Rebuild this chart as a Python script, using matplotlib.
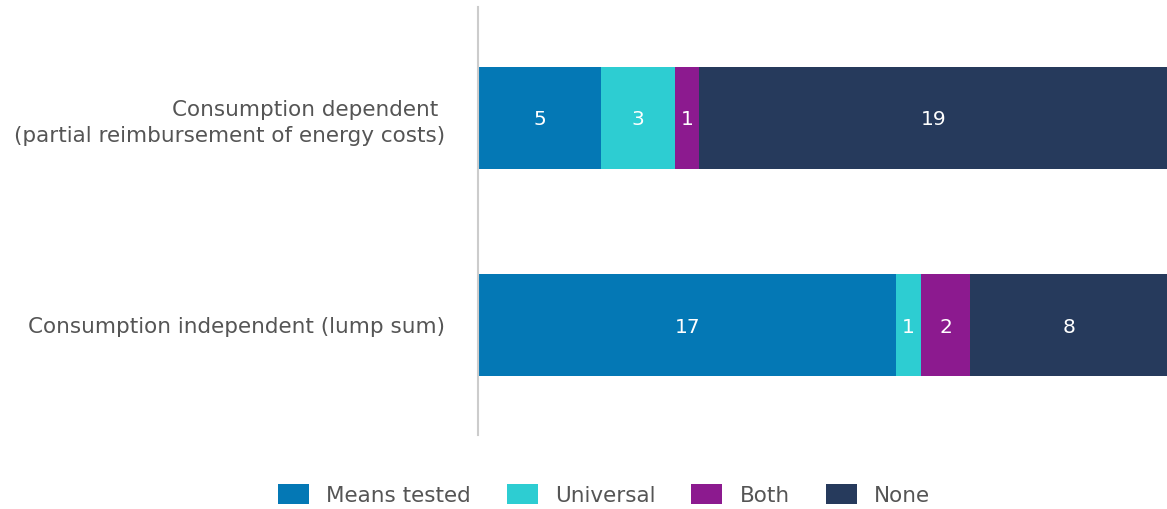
import matplotlib
matplotlib.use("Agg")
import matplotlib.pyplot as plt
import numpy as np

categories = ["Consumption dependent \n(partial reimbursement of energy costs)",
              "Consumption independent (lump sum)"]
series_names = ["Means tested", "Universal", "Both", "None"]
means_tested = [5, 17]
universal = [3, 1]
both = [1, 2]
none = [19, 8]
colors = ["#0478b5", "#2dcdd2", "#8c1a8f", "#263a5c"]

fig = plt.figure(figsize=(11.67, 5.09), dpi=100)
ax = fig.add_axes([478/1167, 1-435/509, 1-478/1167, 428/509])

ypos = np.arange(len(categories))
left = np.zeros(len(categories))
for name, vals, c in zip(series_names, [means_tested, universal, both, none], colors):
    vals = np.array(vals, dtype=float)
    ax.barh(ypos, vals, left=left, height=0.49, color=c, label=name)
    for y, l, v in zip(ypos, left, vals):
        ax.text(l + v/2, y + 0.01, f"{int(v)}", ha="center", va="center", color="white",
                fontsize=14.5, fontweight="medium")
    left += vals

ax.set_xlim(0, 28)
ax.set_ylim(1.53, -0.535)
ax.set_yticks(ypos)
ax.set_yticklabels(categories, fontsize=15.5, color="#555555", linespacing=1.4)
ax.tick_params(axis="y", length=0, pad=24)
ax.set_xticks([])
for s in ["top", "right", "bottom"]:
    ax.spines[s].set_visible(False)
ax.spines["left"].set_color("#cccccc")
ax.spines["left"].set_linewidth(1.5)
plt.setp(ax.get_yticklabels(), multialignment="right")

leg = fig.legend(loc="center", bbox_to_anchor=(604/1167, 1-495/509), ncol=4, frameon=False,
                 fontsize=15.5, handlelength=1.44, handleheight=1.0, columnspacing=1.67,
                 handletextpad=0.8, labelcolor="#555555")
fig.savefig("out.png", dpi=100)
